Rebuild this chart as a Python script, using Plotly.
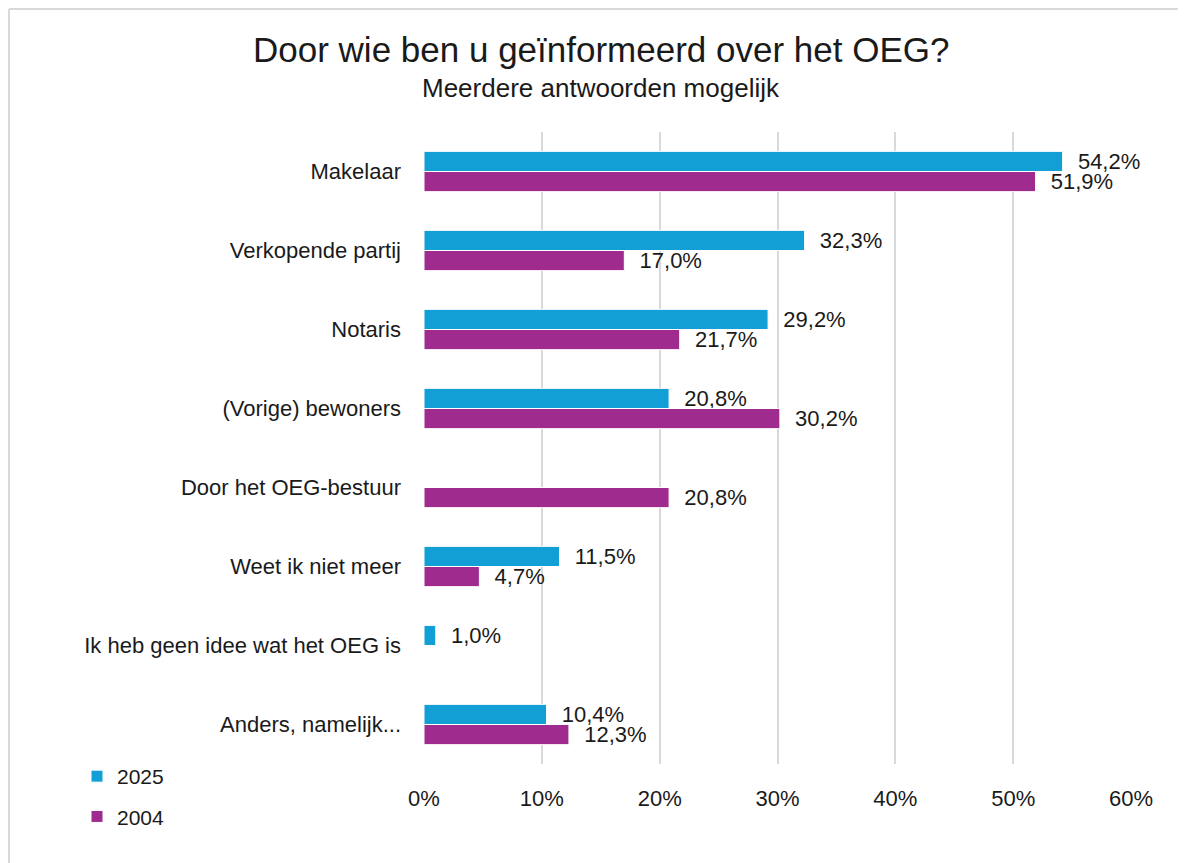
import plotly.graph_objects as go

categories = ["Makelaar", "Verkopende partij", "Notaris", "(Vorige) bewoners",
              "Door het OEG-bestuur", "Weet ik niet meer",
              "Ik heb geen idee wat het OEG is", "Anders, namelijk..."]
values_2025 = [54.2, 32.3, 29.2, 20.8, None, 11.5, 1.0, 10.4]
values_2004 = [51.9, 17.0, 21.7, 30.2, 20.8, 4.7, None, 12.3]
tick_vals = [0, 10, 20, 30, 40, 50, 60]
tick_text = ["0%", "10%", "20%", "30%", "40%", "50%", "60%"]

FONT = "Liberation Sans, Arial, sans-serif"
OFF = 8  # default page body margin
WIN_W, WIN_H = 1186, 863
W, H = WIN_W - OFF, WIN_H - OFF
# plot area in window pixel coordinates
PX0, PX1, PY0, PY1 = 424, 1131, 132, 764
L, R = PX0 - OFF, WIN_W - PX1
T, B = PY0 - OFF, WIN_H - PY1
pw, ph = PX1 - PX0, PY1 - PY0

def px_x(x):
    return (x - PX0) / pw

def px_y(y):
    return (PY1 - y) / ph

def fmt(v):
    return "" if v is None else "\u00a0\u00a0" + f"{v:.1f}".replace(".", ",") + "%"

fig = go.Figure()
for name, vals, color, grp in [("2025", values_2025, "#119fd6", "a"),
                                ("2004", values_2004, "#a02b8f", "b")]:
    fig.add_trace(go.Bar(
        y=categories, x=vals, name=name, orientation="h",
        marker=dict(color=color, line=dict(color="white", width=1)),
        text=[fmt(v) for v in vals], textposition="outside",
        constraintext="none",
        textfont=dict(family=FONT, size=22, color="#1a1a1a"),
        cliponaxis=False, legendgroup=grp,
    ))

fig.update_layout(
    width=W, height=H,
    margin=dict(l=L, r=R, t=T, b=B),
    paper_bgcolor="white", plot_bgcolor="white",
    barmode="group", bargap=0.49, bargroupgap=0,
    font=dict(family=FONT, size=22, color="#1a1a1a"),
    showlegend=True,
    legend=dict(x=px_x(77), y=px_y(756), xanchor="left", yanchor="top",
                orientation="v", tracegroupgap=10,
                font=dict(family=FONT, size=21, color="#1a1a1a"),
                bgcolor="rgba(0,0,0,0)"),
    xaxis=dict(range=[0, 60], tickvals=tick_vals, ticktext=tick_text,
               showgrid=True, gridcolor="#d9d9d9", gridwidth=1.5,
               zeroline=False, showline=False,
               ticks="outside", ticklen=15, tickcolor="rgba(0,0,0,0)",
               tickfont=dict(family=FONT, size=22, color="#1a1a1a"),
               fixedrange=True),
    yaxis=dict(autorange="reversed", showgrid=False, zeroline=False,
               showline=False, ticklabelstandoff=22,
               tickfont=dict(family=FONT, size=22, color="#1a1a1a")),
    annotations=[
        dict(text="Door wie ben u geïnformeerd over het OEG?", xref="paper", yref="paper",
             x=px_x(601), y=px_y(50), xanchor="center", yanchor="middle",
             showarrow=False, font=dict(family=FONT, size=35, color="#1a1a1a")),
        dict(text="Meerdere antwoorden mogelijk", xref="paper", yref="paper",
             x=px_x(601), y=px_y(88), xanchor="center", yanchor="middle",
             showarrow=False, font=dict(family=FONT, size=26, color="#1a1a1a")),
    ],
    shapes=[
        dict(type="line", xref="paper", yref="paper",
             x0=px_x(9), x1=px_x(1190), y0=px_y(9), y1=px_y(9),
             line=dict(color="#d9d9d9", width=2), layer="below"),
        dict(type="line", xref="paper", yref="paper",
             x0=px_x(9), x1=px_x(9), y0=px_y(9), y1=px_y(870),
             line=dict(color="#d9d9d9", width=2), layer="below"),
    ],
)

fig.write_html("out.html")
